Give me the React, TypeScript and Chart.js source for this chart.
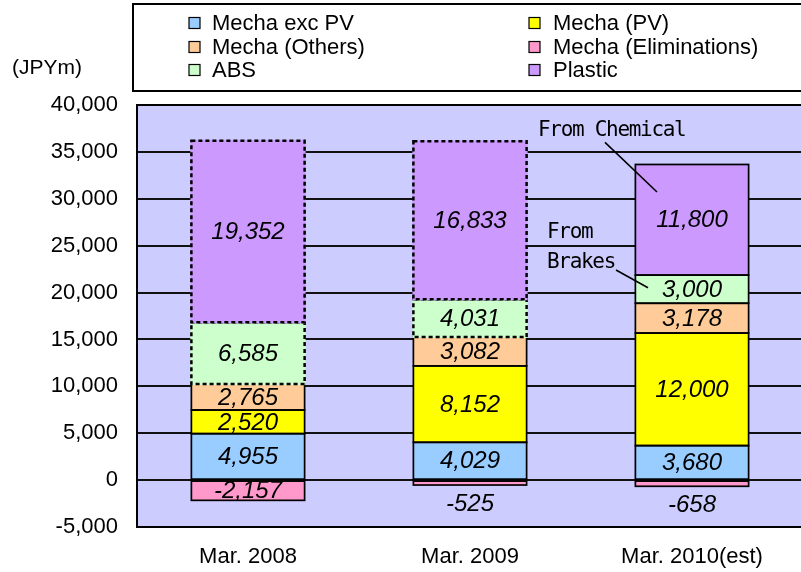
import React, { useEffect, useRef } from "react";
import { Chart, registerables } from "chart.js";

Chart.register(...registerables);

// ---- data ----
const categories = ["Mar. 2008", "Mar. 2009", "Mar. 2010(est)"];
const mechaExcPV = [4955, 4029, 3680];
const mechaPV = [2520, 8152, 12000];
const mechaOthers = [2765, 3082, 3178];
const mechaElim = [-2157, -525, -658];
const absValues = [6585, 4031, 3000];
const plasticValues = [19352, 16833, 11800];
const yMin = -5000;
const yMax = 40000;
const yStep = 5000;
const yTitle = "(JPYm)";

// ---- styles ----
const FONT = "'Liberation Sans', Arial, sans-serif";
const MONO = "'DejaVu Sans Mono', monospace";
const series = [
  { label: "Mecha exc PV", data: mechaExcPV, color: "#99CCFF" },
  { label: "Mecha (PV)", data: mechaPV, color: "#FFFF00" },
  { label: "Mecha (Others)", data: mechaOthers, color: "#FFCC99" },
  { label: "Mecha (Eliminations)", data: mechaElim, color: "#FF99CC" },
  { label: "ABS", data: absValues, color: "#CCFFCC" },
  { label: "Plastic", data: plasticValues, color: "#CC99FF" },
];
// which bars of which series get a dashed outline
const dashedBars: Record<string, number[]> = { ABS: [0, 1], Plastic: [0, 1] };

// annotation callouts, anchored to a category centre (dx in px) and y values
const annotations = [
  { texts: ["From Chemical"], cat: 2, dx: -154, yVals: [37260], line: [-87, 36020, -35, 30720] },
  { texts: ["From", "Brakes"], cat: 2, dx: -145, yVals: [26380, 23180], line: [-76, 22400, -44, 20520] },
];

const bgPlugin = {
  id: "plotBg",
  beforeDraw(chart: any) {
    const { ctx, chartArea: a } = chart;
    ctx.save();
    ctx.fillStyle = "#CCCCFF";
    ctx.fillRect(a.left, a.top, a.right - a.left, a.bottom - a.top);
    ctx.restore();
  },
};

function rectOf(el: any) {
  const p = el.getProps(["x", "y", "base", "width"], true);
  const left = p.x - p.width / 2;
  const top = Math.min(p.y, p.base);
  const h = Math.abs(p.base - p.y);
  return { left, top, w: p.width, h, bottom: top + h, cx: p.x };
}

const barPlugin = {
  id: "barDeco",
  afterDatasetsDraw(chart: any) {
    const { ctx } = chart;
    ctx.save();
    // solid outlines
    chart.data.datasets.forEach((ds: any, di: number) => {
      const meta = chart.getDatasetMeta(di);
      const dashed = dashedBars[ds.label] || [];
      meta.data.forEach((el: any, i: number) => {
        if (dashed.includes(i)) return;
        const r = rectOf(el);
        ctx.strokeStyle = "#000";
        ctx.lineWidth = 1.7;
        ctx.setLineDash([]);
        ctx.strokeRect(r.left, r.top, r.w, r.h);
      });
    });
    // dashed outlines
    chart.data.datasets.forEach((ds: any, di: number) => {
      const meta = chart.getDatasetMeta(di);
      const dashed = dashedBars[ds.label] || [];
      meta.data.forEach((el: any, i: number) => {
        if (!dashed.includes(i)) return;
        const r = rectOf(el);
        ctx.fillStyle = ds.backgroundColor;
        ctx.fillRect(r.left - 1, r.top - 1, r.w + 2, r.h + 2);
        ctx.strokeStyle = "#000";
        ctx.lineWidth = 2.5;
        ctx.setLineDash([4, 3]);
        ctx.strokeRect(r.left, r.top, r.w, r.h);
      });
    });
    ctx.setLineDash([]);
    // value labels
    ctx.font = `italic 24px ${FONT}`;
    ctx.fillStyle = "#000";
    ctx.textAlign = "center";
    ctx.textBaseline = "middle";
    chart.data.datasets.forEach((ds: any, di: number) => {
      const meta = chart.getDatasetMeta(di);
      meta.data.forEach((el: any, i: number) => {
        const v = ds.data[i];
        const r = rectOf(el);
        const text = Number(v).toLocaleString("en-US");
        let y = r.top + r.h / 2;
        if (r.h < 15) y = v < 0 ? r.bottom + 18 : r.top - 18;
        ctx.fillText(text, r.cx, y + 1);
      });
    });
    ctx.restore();
  },
};

const overlayPlugin = {
  id: "overlay",
  afterDraw(chart: any) {
    const { ctx, chartArea: a, scales } = chart;
    ctx.save();
    // plot border
    ctx.strokeStyle = "#000";
    ctx.lineWidth = 2;
    ctx.strokeRect(a.left, a.top, a.right - a.left, a.bottom - a.top);

    // y title
    ctx.font = `21px ${FONT}`;
    ctx.fillStyle = "#000";
    ctx.textAlign = "left";
    ctx.textBaseline = "middle";
    ctx.fillText(yTitle, 12, 68);

    // legend box
    ctx.lineWidth = 2;
    ctx.strokeRect(133, 4, 720, 87);
    const colX = [189, 529];
    const textX = [212, 553];
    const rowY = [23, 47, 70];
    ctx.font = `22px ${FONT}`;
    series.forEach((s, i) => {
      const c = i % 2;
      const r = Math.floor(i / 2);
      ctx.fillStyle = s.color;
      ctx.fillRect(colX[c], rowY[r] - 5.5, 11, 11);
      ctx.lineWidth = 1.2;
      ctx.strokeStyle = "#000";
      ctx.strokeRect(colX[c], rowY[r] - 5.5, 11, 11);
      ctx.fillStyle = "#000";
      ctx.fillText(s.label, textX[c], rowY[r] + 1);
    });

    // annotations
    ctx.font = `21px ${MONO}`;
    try {
      (ctx as any).letterSpacing = "-1.3px";
    } catch (e) {}
    ctx.fillStyle = "#000";
    ctx.strokeStyle = "#000";
    ctx.lineWidth = 1.6;
    annotations.forEach((an) => {
      const cx = scales.x.getPixelForValue(an.cat);
      an.texts.forEach((t, k) => {
        ctx.fillText(t, cx + an.dx, scales.y.getPixelForValue(an.yVals[k]));
      });
      ctx.beginPath();
      ctx.moveTo(cx + an.line[0], scales.y.getPixelForValue(an.line[1]));
      ctx.lineTo(cx + an.line[2], scales.y.getPixelForValue(an.line[3]));
      ctx.stroke();
    });
    ctx.restore();
  },
};

export default function App() {
  const ref = useRef<HTMLCanvasElement>(null);
  useEffect(() => {
    const canvas = ref.current!;
    const chart = new Chart(canvas, {
      type: "bar",
      data: {
        labels: categories,
        datasets: series.map((s) => ({
          label: s.label,
          data: s.data,
          backgroundColor: s.color,
          borderWidth: 0,
          stack: "all",
          categoryPercentage: 0.51,
          barPercentage: 1,
        })),
      },
      options: {
        responsive: false,
        animation: false,
        layout: { padding: { left: 0, top: 105, right: 7, bottom: 0 } },
        plugins: {
          legend: { display: false },
          tooltip: { enabled: false },
          title: { display: false },
        },
        scales: {
          x: {
            stacked: true,
            grid: { display: false },
            border: { display: false },
            ticks: { font: { family: FONT, size: 22 }, color: "#000", padding: 9, maxRotation: 0 },
            afterFit: (s: any) => {
              s.height = 45;
            },
          },
          y: {
            stacked: true,
            min: yMin,
            max: yMax,
            ticks: {
              stepSize: yStep,
              callback: (v: any) => Number(v).toLocaleString("en-US"),
              font: { family: FONT, size: 22 },
              color: "#000",
              padding: 19,
            },
            grid: { color: "#111", lineWidth: 2, drawTicks: false },
            border: { display: false },
            afterFit: (s: any) => {
              s.width = 137;
            },
          },
        },
      } as any,
      plugins: [bgPlugin, barPlugin, overlayPlugin],
    });
    return () => chart.destroy();
  }, []);
  return (
    <div
      style={{
        position: "fixed",
        left: 0,
        top: 0,
        width: 801,
        height: 572,
        overflow: "hidden",
        background: "#fff",
      }}
    >
      <canvas ref={ref} width={810} height={572} style={{ display: "block" }} />
    </div>
  );
}
